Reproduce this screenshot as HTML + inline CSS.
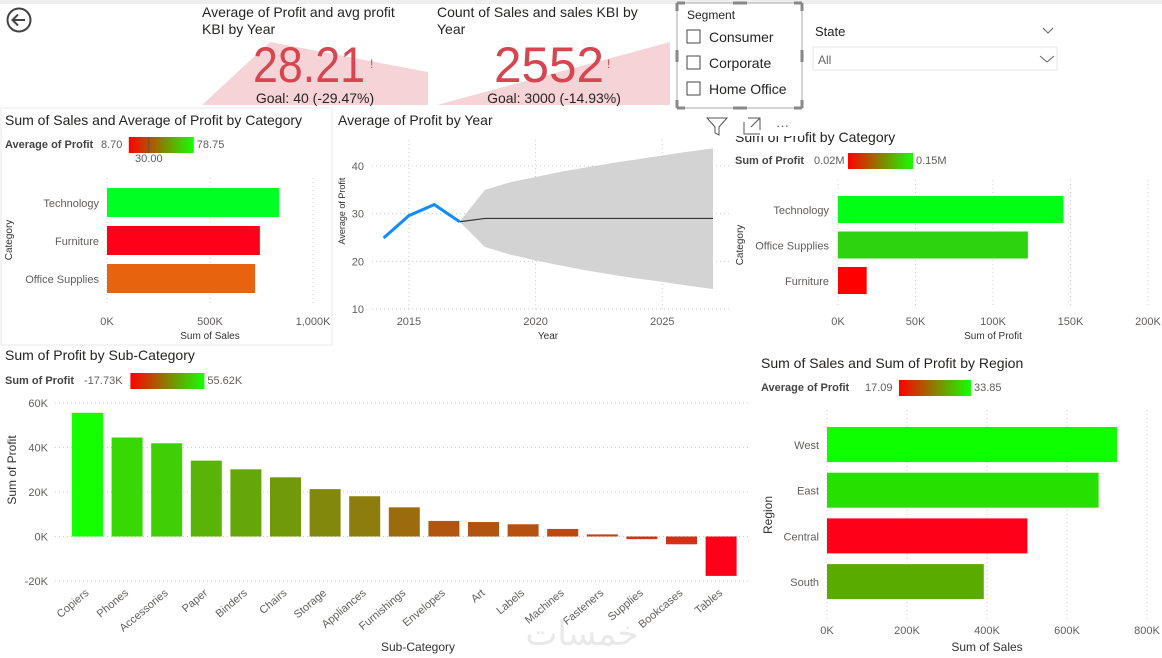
<!DOCTYPE html>
<html><head><meta charset="utf-8"><style>
html,body{margin:0;padding:0;background:#fff;width:1162px;height:658px;overflow:hidden}
svg{display:block;font-family:"Liberation Sans","DejaVu Sans",sans-serif}
</style></head><body>
<svg id="s" width="1162" height="658" viewBox="0 0 1162 658">
<rect x="0" y="0" width="1162" height="4" fill="#eee"/>
<g><circle cx="19" cy="20" r="11.5" fill="none" stroke="#444" stroke-width="2"/><path d="M25 20H13M18 14.5L12.5 20L18 25.5" fill="none" stroke="#444" stroke-width="2"/></g>

<!-- KPI 1 -->
<g>
<polygon points="202,105 270,42 428,72 428,105" fill="#f6d3d7"/>
<text x="202" y="17" font-size="14" fill="#252423">Average of Profit and avg profit</text>
<text x="202" y="34" font-size="14" fill="#252423">KBI by Year</text>
<text x="253" y="82" font-size="50" fill="#d64550" textLength="112" lengthAdjust="spacingAndGlyphs">28.21</text>
<text x="370" y="68" font-size="12" fill="#d64550">!</text>
<text x="315" y="103" font-size="14" fill="#252423" text-anchor="middle">Goal: 40 (-29.47%)</text>
</g>
<!-- KPI 2 -->
<g>
<polygon points="437,105 670,42 670,105" fill="#f6d3d7"/>
<text x="437" y="17" font-size="14" fill="#252423">Count of Sales and sales KBI by</text>
<text x="437" y="34" font-size="14" fill="#252423">Year</text>
<text x="494" y="82" font-size="50" fill="#d64550" textLength="110" lengthAdjust="spacingAndGlyphs">2552</text>
<text x="607" y="68" font-size="12" fill="#d64550">!</text>
<text x="554" y="103" font-size="14" fill="#252423" text-anchor="middle">Goal: 3000 (-14.93%)</text>
</g>

<!-- Segment slicer -->
<g>
<rect x="677" y="3" width="125" height="105" fill="#fff" stroke="#aaa"/>
<path d="M677 3h8M677 3v8M802 3h-8M802 3v8M677 108h8M677 108v-8M802 108h-8M802 108v-8M733 3h14M733 108h14M677 50v12M802 50v12" stroke="#888" stroke-width="3"/>
<text x="687" y="19" font-size="12" fill="#252423">Segment</text>
<g><rect x="687" y="30" width="13" height="13" fill="#fff" stroke="#444"/><text x="709" y="42" font-size="14" fill="#252423">Consumer</text></g>
<g><rect x="687" y="56" width="13" height="13" fill="#fff" stroke="#444"/><text x="709" y="68" font-size="14" fill="#252423">Corporate</text></g>
<g><rect x="687" y="82" width="13" height="13" fill="#fff" stroke="#444"/><text x="709" y="94" font-size="14" fill="#252423">Home Office</text></g>
</g>
<!-- State slicer -->
<g>
<text x="815" y="36" font-size="13" fill="#252423">State</text>
<path d="M1043 28l5 5 5-5" fill="none" stroke="#666"/>
<rect x="813" y="47" width="244" height="23" fill="#fff" stroke="#e6e6e6"/>
<text x="818" y="64" font-size="12" fill="#666">All</text>
<path d="M1040 56l7 6 7-6" fill="none" stroke="#666"/>
</g>

<!-- Chart 1 frame -->
<rect x="1" y="108" width="331" height="237" fill="none" stroke="#e8e8e8"/>
<text x="5" y="125" font-size="14" fill="#252423">Sum of Sales and Average of Profit by Category</text>
<g id="c1"></g>
<g id="c2"></g>
<g id="c3"></g>
<g id="c4"></g>
<g id="c5"></g>
<text x="582" y="645" font-size="34" fill="#e9e9e9" text-anchor="middle" font-family="'DejaVu Sans',sans-serif">خمسات</text>
<defs>
<linearGradient id="grg" x1="0" x2="1"><stop offset="0" stop-color="#ff0000"/><stop offset="1" stop-color="#14ff00"/></linearGradient>
</defs>
</svg>
<script>
// ---- data ----
const catSalesCats=["Technology","Furniture","Office Supplies"];
const catSalesVals=[836,742,719];
const catSalesColors=["#00ff22","#ff0019","#e8630e"];
const catSalesTicks=[0,500,1000];
const catSalesTickLabels=["0K","500K","1,000K"];

const years=[2014,2015,2016,2017];
const profitByYear=[24.9,29.6,31.9,28.3];
const fcYears=[2017,2018,2019,2020,2021,2022,2023,2024,2025,2026,2027];
const fcVals=[28.3,29.0,29.0,29.0,29.0,29.0,29.0,29.0,29.0,29.0,29.0];
const fcUpper=[28.3,35.0,36.6,37.7,38.8,39.7,40.6,41.4,42.2,43.0,43.7];
const fcLower=[28.3,23.0,21.4,20.2,19.1,18.1,17.2,16.4,15.7,14.9,14.2];
const yearTicks=[2015,2020,2025];
const avgProfitTicks=[10,20,30,40];

const catProfitCats=["Technology","Office Supplies","Furniture"];
const catProfitVals=[145.5,122.5,18.5];
const catProfitColors=["#00ff14","#2ed30f","#ff0000"];
const catProfitTicks=[0,50,100,150,200];

const subCats=["Copiers","Phones","Accessories","Paper","Binders","Chairs","Storage","Appliances","Furnishings","Envelopes","Art","Labels","Machines","Fasteners","Supplies","Bookcases","Tables"];
const subProfit=[55.6,44.5,41.9,34.1,30.2,26.6,21.3,18.1,13.1,7.0,6.5,5.5,3.4,0.95,-1.2,-3.5,-17.7];
const subTicks=[-20,0,20,40,60];

const regions=["West","East","Central","South"];
const regionSales=[725,679,501,392];
const regionColors=["#0dff00","#26e000","#ff0019","#5aab00"];
const regionTicks=[0,200,400,600,800];

const NS="http://www.w3.org/2000/svg";
function mk(p,tag,a,txt){const e=document.createElementNS(NS,tag);for(const k in a)e.setAttribute(k,a[k]);if(txt!==undefined)e.textContent=txt;p.appendChild(e);return e;}
function lin(d0,d1,r0,r1){return v=>r0+(v-d0)/(d1-d0)*(r1-r0);}
const GRID="#c8c8c8",TX="#605e5c";

function legend(g,x,y,label,lo,hi,w,lbw){
  const t=mk(g,'text',{x:x,y:y,'font-size':11,'font-weight':'bold',fill:'#444'},label);
  
  
  mk(g,'text',{x:x+lbw,y:y,'font-size':11,fill:TX},lo);
  const gx=x+lbw+lo.length*6.2+3;
  const r=mk(g,'rect',{x:gx,y:y-11,width:w,height:16,fill:'url(#grg)'});
  
  
  mk(g,'text',{x:gx+w+3,y:y,'font-size':11,fill:TX},hi);
  return gx;
}

// ---- chart 1 ----
(function(){
  const g=document.getElementById('c1');
  const gx=legend(g,5,148,"Average of Profit",'8.70','78.75',65,96);
  mk(g,'line',{x1:gx+20,x2:gx+20,y1:137,y2:153,stroke:'#555'});
  mk(g,'text',{x:gx+20,y:162,'font-size':11,fill:TX,'text-anchor':'middle'},'30.00');
  const x=lin(0,1000,107,313);
  catSalesTicks.forEach((t,i)=>{
    mk(g,'line',{x1:x(t),x2:x(t),y1:178,y2:305,stroke:GRID,'stroke-dasharray':'1 3'});
    mk(g,'text',{x:x(t),y:325,'font-size':11,fill:TX,'text-anchor':'middle'},catSalesTickLabels[i]);
  });
  catSalesCats.forEach((c,i)=>{
    const y=188+i*38;
    const b=mk(g,'rect',{x:x(0),y:y,width:x(catSalesVals[i])-x(0),height:29,fill:catSalesColors[i]});
    
    
    mk(g,'text',{x:99,y:y+19,'font-size':11,fill:TX,'text-anchor':'end'},c);
  });
  mk(g,'text',{x:210,y:339,'font-size':10,fill:'#333','text-anchor':'middle'},'Sum of Sales');
  mk(g,'text',{x:12,y:240,'font-size':10,fill:'#333','text-anchor':'middle',transform:'rotate(-90 12 240)'},'Category');
})();

// ---- chart 2 ----
(function(){
  const g=document.getElementById('c2');
  mk(g,'text',{x:338,y:125,'font-size':14,fill:'#252423'},'Average of Profit by Year');
  const x=lin(2014,2027,383.6,713), y=lin(10,40,309,166);
  avgProfitTicks.forEach(t=>{
    mk(g,'line',{x1:372,x2:730,y1:y(t),y2:y(t),stroke:GRID,'stroke-dasharray':'1 3'});
    mk(g,'text',{x:364,y:y(t)+4,'font-size':11,fill:TX,'text-anchor':'end'},t);
  });
  yearTicks.forEach(t=>{
    mk(g,'line',{x1:x(t),x2:x(t),y1:140,y2:309,stroke:GRID,'stroke-dasharray':'1 3'});
    mk(g,'text',{x:x(t),y:325,'font-size':11,fill:TX,'text-anchor':'middle'},t);
  });
  let d=fcYears.map((yr,i)=>(i?'L':'M')+x(yr)+' '+y(fcUpper[i])).join('');
  for(let i=fcYears.length-1;i>=0;i--)d+='L'+x(fcYears[i])+' '+y(fcLower[i]);
  const band=mk(g,'path',{d:d+'Z',fill:'#d3d3d3'});
  
  
  const fl=mk(g,'path',{d:fcYears.map((yr,i)=>(i?'L':'M')+x(yr)+' '+y(fcVals[i])).join(''),fill:'none',stroke:'#333','stroke-width':1.2});
  
  
  const ln=mk(g,'path',{d:years.map((yr,i)=>(i?'L':'M')+x(yr)+' '+y(profitByYear[i])).join(''),fill:'none',stroke:'#118dff','stroke-width':3});
  
  
  mk(g,'text',{x:548,y:339,'font-size':10,fill:'#333','text-anchor':'middle'},'Year');
  mk(g,'text',{x:345,y:211,'font-size':9,fill:'#333','text-anchor':'middle',transform:'rotate(-90 345 211)'},'Average of Profit');
})();

// ---- chart 3 ----
(function(){
  const g=document.getElementById('c3');
  mk(g,'text',{x:735,y:142,'font-size':14,fill:'#252423'},'Sum of Profit by Category');
  legend(g,735,164,"Sum of Profit",'0.02M','0.15M',65,79);
  const x=lin(0,200,838,1148);
  catProfitTicks.forEach(t=>{
    mk(g,'line',{x1:x(t),x2:x(t),y1:180,y2:305,stroke:GRID,'stroke-dasharray':'1 3'});
    mk(g,'text',{x:x(t),y:325,'font-size':11,fill:TX,'text-anchor':'middle'},t+'K');
  });
  catProfitCats.forEach((c,i)=>{
    const yy=196+i*35.5;
    const b=mk(g,'rect',{x:x(0),y:yy,width:x(catProfitVals[i])-x(0),height:27,fill:catProfitColors[i]});
    
    
    mk(g,'text',{x:829,y:yy+18,'font-size':11,fill:TX,'text-anchor':'end'},c);
  });
  mk(g,'text',{x:993,y:339,'font-size':10,fill:'#333','text-anchor':'middle'},'Sum of Profit');
  mk(g,'text',{x:743,y:245,'font-size':10,fill:'#333','text-anchor':'middle',transform:'rotate(-90 743 245)'},'Category');
  const ic=mk(g,'g',{});
  
  
  mk(ic,'rect',{x:703,y:116,width:100,height:20,fill:'#fff'});
  mk(ic,'path',{d:'M707 118h20l-8 9v8l-4-2v-6z',fill:'none',stroke:'#555'});
  mk(ic,'path',{d:'M744 122v12h16M748 118h12v12M760 118l-9 9',fill:'none',stroke:'#555'});
  mk(ic,'text',{x:776,y:130,'font-size':13,fill:'#555'},'···');
})();

// ---- chart 4 ----
(function(){
  const g=document.getElementById('c4');
  mk(g,'text',{x:5,y:360,'font-size':14,fill:'#252423'},'Sum of Profit by Sub-Category');
  legend(g,5,384,"Sum of Profit",'-17.73K','55.62K',74,79);
  const y=lin(-20,60,581,403);
  subTicks.forEach(t=>{
    mk(g,'line',{x1:55,x2:750,y1:y(t),y2:y(t),stroke:GRID,'stroke-dasharray':'1 3'});
    mk(g,'text',{x:48,y:y(t)+4,'font-size':11,fill:TX,'text-anchor':'end'},t+'K');
  });
  const mn=Math.min(...subProfit),mx=Math.max(...subProfit);
  subCats.forEach((c,i)=>{
    const cx=87.5+i*39.6, v=subProfit[i];
    const f=(v-mn)/(mx-mn);
    const col='rgb('+Math.round(255*(1-f)+20*f)+','+Math.round(255*f)+','+Math.round(25*(1-f))+')';
    const b=mk(g,'rect',{x:cx-15.5,y:Math.min(y(v),y(0)),width:31,height:Math.max(1,Math.abs(y(v)-y(0))),fill:col});
    
    
    mk(g,'text',{x:cx+2,y:594,'font-size':11,fill:TX,'text-anchor':'end',transform:'rotate(-40 '+(cx+2)+' 594)'},c);
  });
  mk(g,'text',{x:418,y:651,'font-size':12,fill:'#333','text-anchor':'middle'},'Sub-Category');
  mk(g,'text',{x:16,y:470,'font-size':12,fill:'#333','text-anchor':'middle',transform:'rotate(-90 16 470)'},'Sum of Profit');
})();

// ---- chart 5 ----
(function(){
  const g=document.getElementById('c5');
  mk(g,'text',{x:761,y:368,'font-size':14,fill:'#252423'},'Sum of Sales and Sum of Profit by Region');
  legend(g,761,391,"Average of Profit",'17.09','33.85',72,104);
  const x=lin(0,800,827,1147);
  regionTicks.forEach(t=>{
    mk(g,'line',{x1:x(t),x2:x(t),y1:410,y2:620,stroke:GRID,'stroke-dasharray':'1 3'});
    mk(g,'text',{x:x(t),y:634,'font-size':11,fill:TX,'text-anchor':'middle'},t+'K');
  });
  regions.forEach((r,i)=>{
    const yy=427+i*45.7;
    const b=mk(g,'rect',{x:x(0),y:yy,width:x(regionSales[i])-x(0),height:35,fill:regionColors[i]});
    
    
    mk(g,'text',{x:819,y:yy+22,'font-size':11,fill:TX,'text-anchor':'end'},r);
  });
  mk(g,'text',{x:987,y:651,'font-size':12,fill:'#333','text-anchor':'middle'},'Sum of Sales');
  mk(g,'text',{x:772,y:515,'font-size':12,fill:'#333','text-anchor':'middle',transform:'rotate(-90 772 515)'},'Region');
})();
</script>
</body></html>
